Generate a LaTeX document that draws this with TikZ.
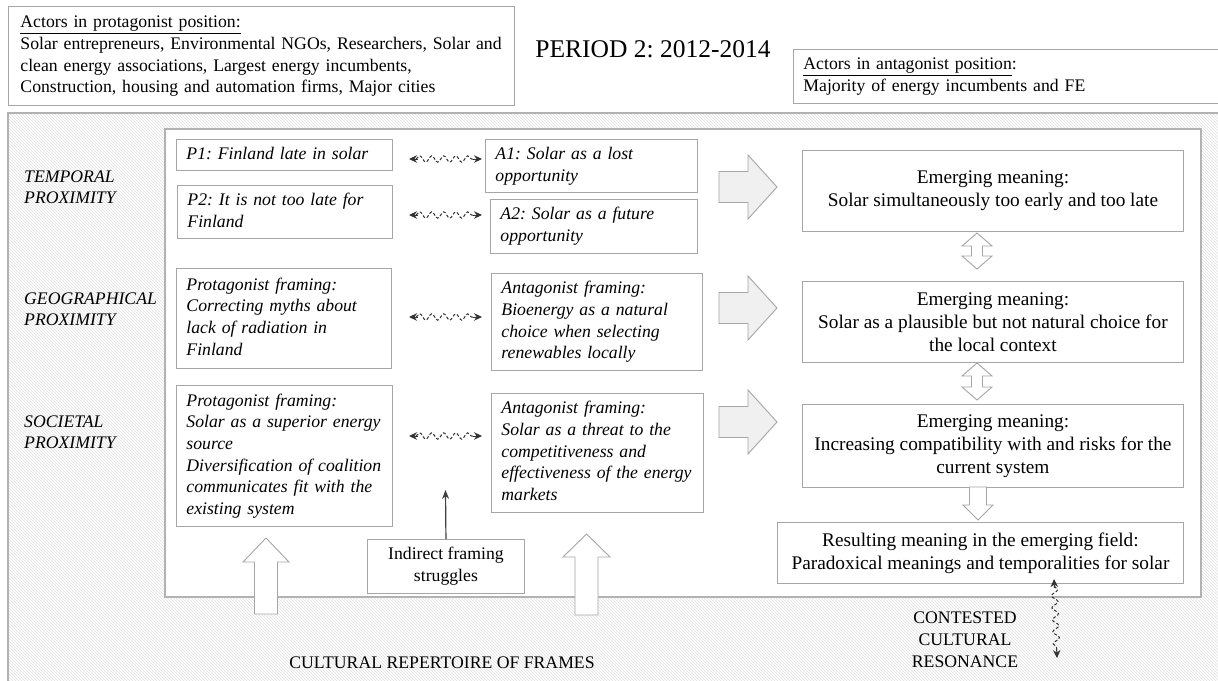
\documentclass[tikz,border=0pt]{standalone}
\usepackage{fontspec}
\setmainfont{Liberation Serif}
\usetikzlibrary{decorations.pathmorphing,patterns,arrows.meta,calc}
\frenchspacing
\newcommand{\lns}[1]{\begin{tabular}{@{}l@{}}#1\end{tabular}}
\newcommand{\rblk}[2]{\filldraw[blk, fill=gray!12] (#1,#2-15.5) -- ++(29,0) -- ++(0,-16.5) -- (#1+58,#2) -- (#1+29,#2+32) -- ++(0,-16.5) -- (#1,#2+15.5) -- cycle;}
\newcommand{\ublk}[5]{\filldraw[blk, fill=white] (#1,#2) -- (#1+#5,#3) -- (#1+11.5,#3) -- (#1+11.5,#4) -- (#1-11.5,#4) -- (#1-11.5,#3) -- (#1-#5,#3) -- cycle;}
\newcommand{\dblk}[3]{\filldraw[blk, fill=white] (#1,#2) -- (#1+15,#2+13) -- (#1+5.5,#2+13) -- (#1+5.5,#3-13) -- (#1+15,#3-13) -- (#1,#3) -- (#1-15,#3-13) -- (#1-5.5,#3-13) -- (#1-5.5,#2+13) -- (#1-15,#2+13) -- cycle;}
\newcommand{\sqarrow}[2]{%
  \draw[squig] ($(#1)!7pt!(#2)$) -- ($(#2)!7pt!(#1)$);
  \draw[sqtip] ($(#1)!9pt!(#2)$) -- (#1);
  \draw[sqtip] ($(#2)!9pt!(#1)$) -- (#2);}
\begin{document}
\frenchspacing
\begin{tikzpicture}[x=1pt,y=-1pt,
  every node/.style={font=\fontsize{17.7pt}{21.7pt}\selectfont\frenchspacing},
  tbox/.style={draw=gray!70, line width=0.9pt, fill=white, inner xsep=10pt, inner ysep=0pt, anchor=north west},
  ibox/.style={tbox, font=\fontsize{17.7pt}{21.7pt}\selectfont\itshape\frenchspacing, align=left},
  cbox/.style={tbox, align=center, inner xsep=2pt, font=\fontsize{19.3pt}{23.2pt}\selectfont\frenchspacing},
  lab/.style={font=\fontsize{17.7pt}{21pt}\selectfont\itshape, align=left, anchor=west, inner sep=0pt},
  plain/.style={align=center, inner sep=0pt},
  blk/.style={draw=gray!70, line width=0.9pt, line join=miter},
  squig/.style={draw=gray!40!black, line width=1pt, dash pattern=on 3pt off 2pt, decorate,
    decoration={snake, amplitude=3.2pt, segment length=12pt}},
  sqtip/.style={draw=gray!40!black, line width=1pt, -{Stealth[length=8pt,width=7.5pt]}},
  uparr/.style={draw=gray!50!black, line width=1.2pt, -{Stealth[length=9pt,width=7pt]}}
]
\path[use as bounding box] (0,0) rectangle (1218,680);
\clip (0,0) rectangle (1218,680);

% outer hatched area
\path[pattern=north west lines, pattern color=gray!25] (8,113) rectangle (1230,700);
\draw[draw=gray!60, line width=1.3pt] (8,700) -- (8,113) -- (1230,113);
% inner white area
\draw[draw=gray!60, line width=1.2pt, fill=white] (165,129) rectangle (1201,597);

% header
\node[tbox, align=left, minimum width=506pt, minimum height=99pt, text width=482pt, inner xsep=12pt] (prot) at (8,6)
  {\lns{\underline{Actors in protagonist position:}\\Solar entrepreneurs, Environmental NGOs, Researchers, Solar and\\clean energy associations, Largest energy incumbents,\\Construction, housing and automation firms, Major cities}};
\node[font=\fontsize{25.5pt}{28pt}\selectfont] (period) at (653,49) {PERIOD 2: 2012-2014};
\node[tbox, align=left, minimum width=440pt, minimum height=54pt, text width=420pt] (antag) at (793,49)
  {\lns{\underline{Actors in antagonist position}:\\Majority of energy incumbents and FE}};

% left labels
\node[lab] (temp) at (24,187) {TEMPORAL\\PROXIMITY};
\node[lab] (geo) at (24,309) {GEOGRAPHICAL\\PROXIMITY};
\node[lab] (soc) at (24,432) {SOCIETAL\\PROXIMITY};

% protagonist column
\node[ibox, minimum width=216pt, minimum height=31pt, text width=196pt] (p1) at (176,139) {\lns{P1: Finland late in solar}};
\node[ibox, minimum width=215pt, minimum height=53pt, text width=195pt] (p2) at (177,185) {\lns{P2: It is not too late for\\Finland}};
\node[ibox, minimum width=215pt, minimum height=100pt, text width=195pt] (pg) at (176,268) {\lns{Protagonist framing:\\Correcting myths about\\lack of radiation in\\Finland}};
\node[ibox, minimum width=216pt, minimum height=141pt, text width=196pt] (ps) at (176,385) {\lns{Protagonist framing:\\Solar as a superior energy\\source\\Diversification of coalition\\communicates fit with the\\existing system}};

% antagonist column
\node[ibox, minimum width=212pt, minimum height=53pt, text width=192pt] (a1) at (485,139) {\lns{A1: Solar as a lost\\opportunity}};
\node[ibox, minimum width=207pt, minimum height=54pt, text width=187pt] (a2) at (490,199) {\lns{A2: Solar as a future\\opportunity}};
\node[ibox, minimum width=211pt, minimum height=97pt, text width=191pt] (ag) at (491,273) {\lns{Antagonist framing:\\Bioenergy as a natural\\choice when selecting\\renewables locally}};
\node[ibox, minimum width=212pt, minimum height=119pt, text width=192pt] (as) at (491,393) {\lns{Antagonist framing:\\Solar as a threat to the\\competitiveness and\\effectiveness of the energy\\markets}};

% emerging meanings
\node[cbox, minimum width=381pt, minimum height=81pt] (em1) at (802,150) {Emerging meaning:\\Solar simultaneously too early and too late};
\node[cbox, minimum width=381pt, minimum height=81pt] (em2) at (802,281) {Emerging meaning:\\Solar as a plausible but not natural choice for\\the local context};
\node[cbox, minimum width=381pt, minimum height=83pt] (em3) at (802,404) {Emerging meaning:\\Increasing compatibility with and risks for the\\current system};
\node[cbox, minimum width=406pt, minimum height=61pt] (res) at (777,522) {Resulting meaning in the emerging field:\\Paradoxical meanings and temporalities for solar};

% indirect framing
\node[cbox, font=\fontsize{17.7pt}{21.7pt}\selectfont, minimum width=157pt, minimum height=54pt] (ind) at (367,539) {Indirect framing\\struggles};
\coordinate (indtip) at (445.5,490);
\draw[uparr] (ind.north) -- (indtip);

% bottom labels
\node[plain] (crf) at (442,663) {CULTURAL REPERTOIRE OF FRAMES};
\node[plain, font=\fontsize{17.7pt}{22pt}\selectfont] (ccr) at (965,640) {CONTESTED\\CULTURAL\\RESONANCE};

% squiggly struggles
\coordinate (s1a) at (409,159); \coordinate (s1b) at (482,159);
\coordinate (s2a) at (409,215); \coordinate (s2b) at (482,215);
\coordinate (s3a) at (409,317); \coordinate (s3b) at (482,317);
\coordinate (s4a) at (409,436); \coordinate (s4b) at (482,436);
\coordinate (s5a) at (1054,579); \coordinate (s5b) at (1057,658);
\sqarrow{s1a}{s1b}
\sqarrow{s2a}{s2b}
\sqarrow{s3a}{s3b}
\sqarrow{s4a}{s4b}
\sqarrow{s5a}{s5b}

% block arrows
\rblk{719}{187}
\rblk{719}{308}
\rblk{719}{422}
\ublk{266}{538}{562}{614}{23}
\ublk{586.5}{534}{557}{615}{23.5}
\dblk{977}{233}{269}
\dblk{977}{363}{400}
\filldraw[blk, fill=white] (969.5,487) -- (986.5,487) -- (986.5,505) -- (993,505) -- (978,520) -- (963,505) -- (969.5,505) -- cycle;
\end{tikzpicture}
\end{document}
